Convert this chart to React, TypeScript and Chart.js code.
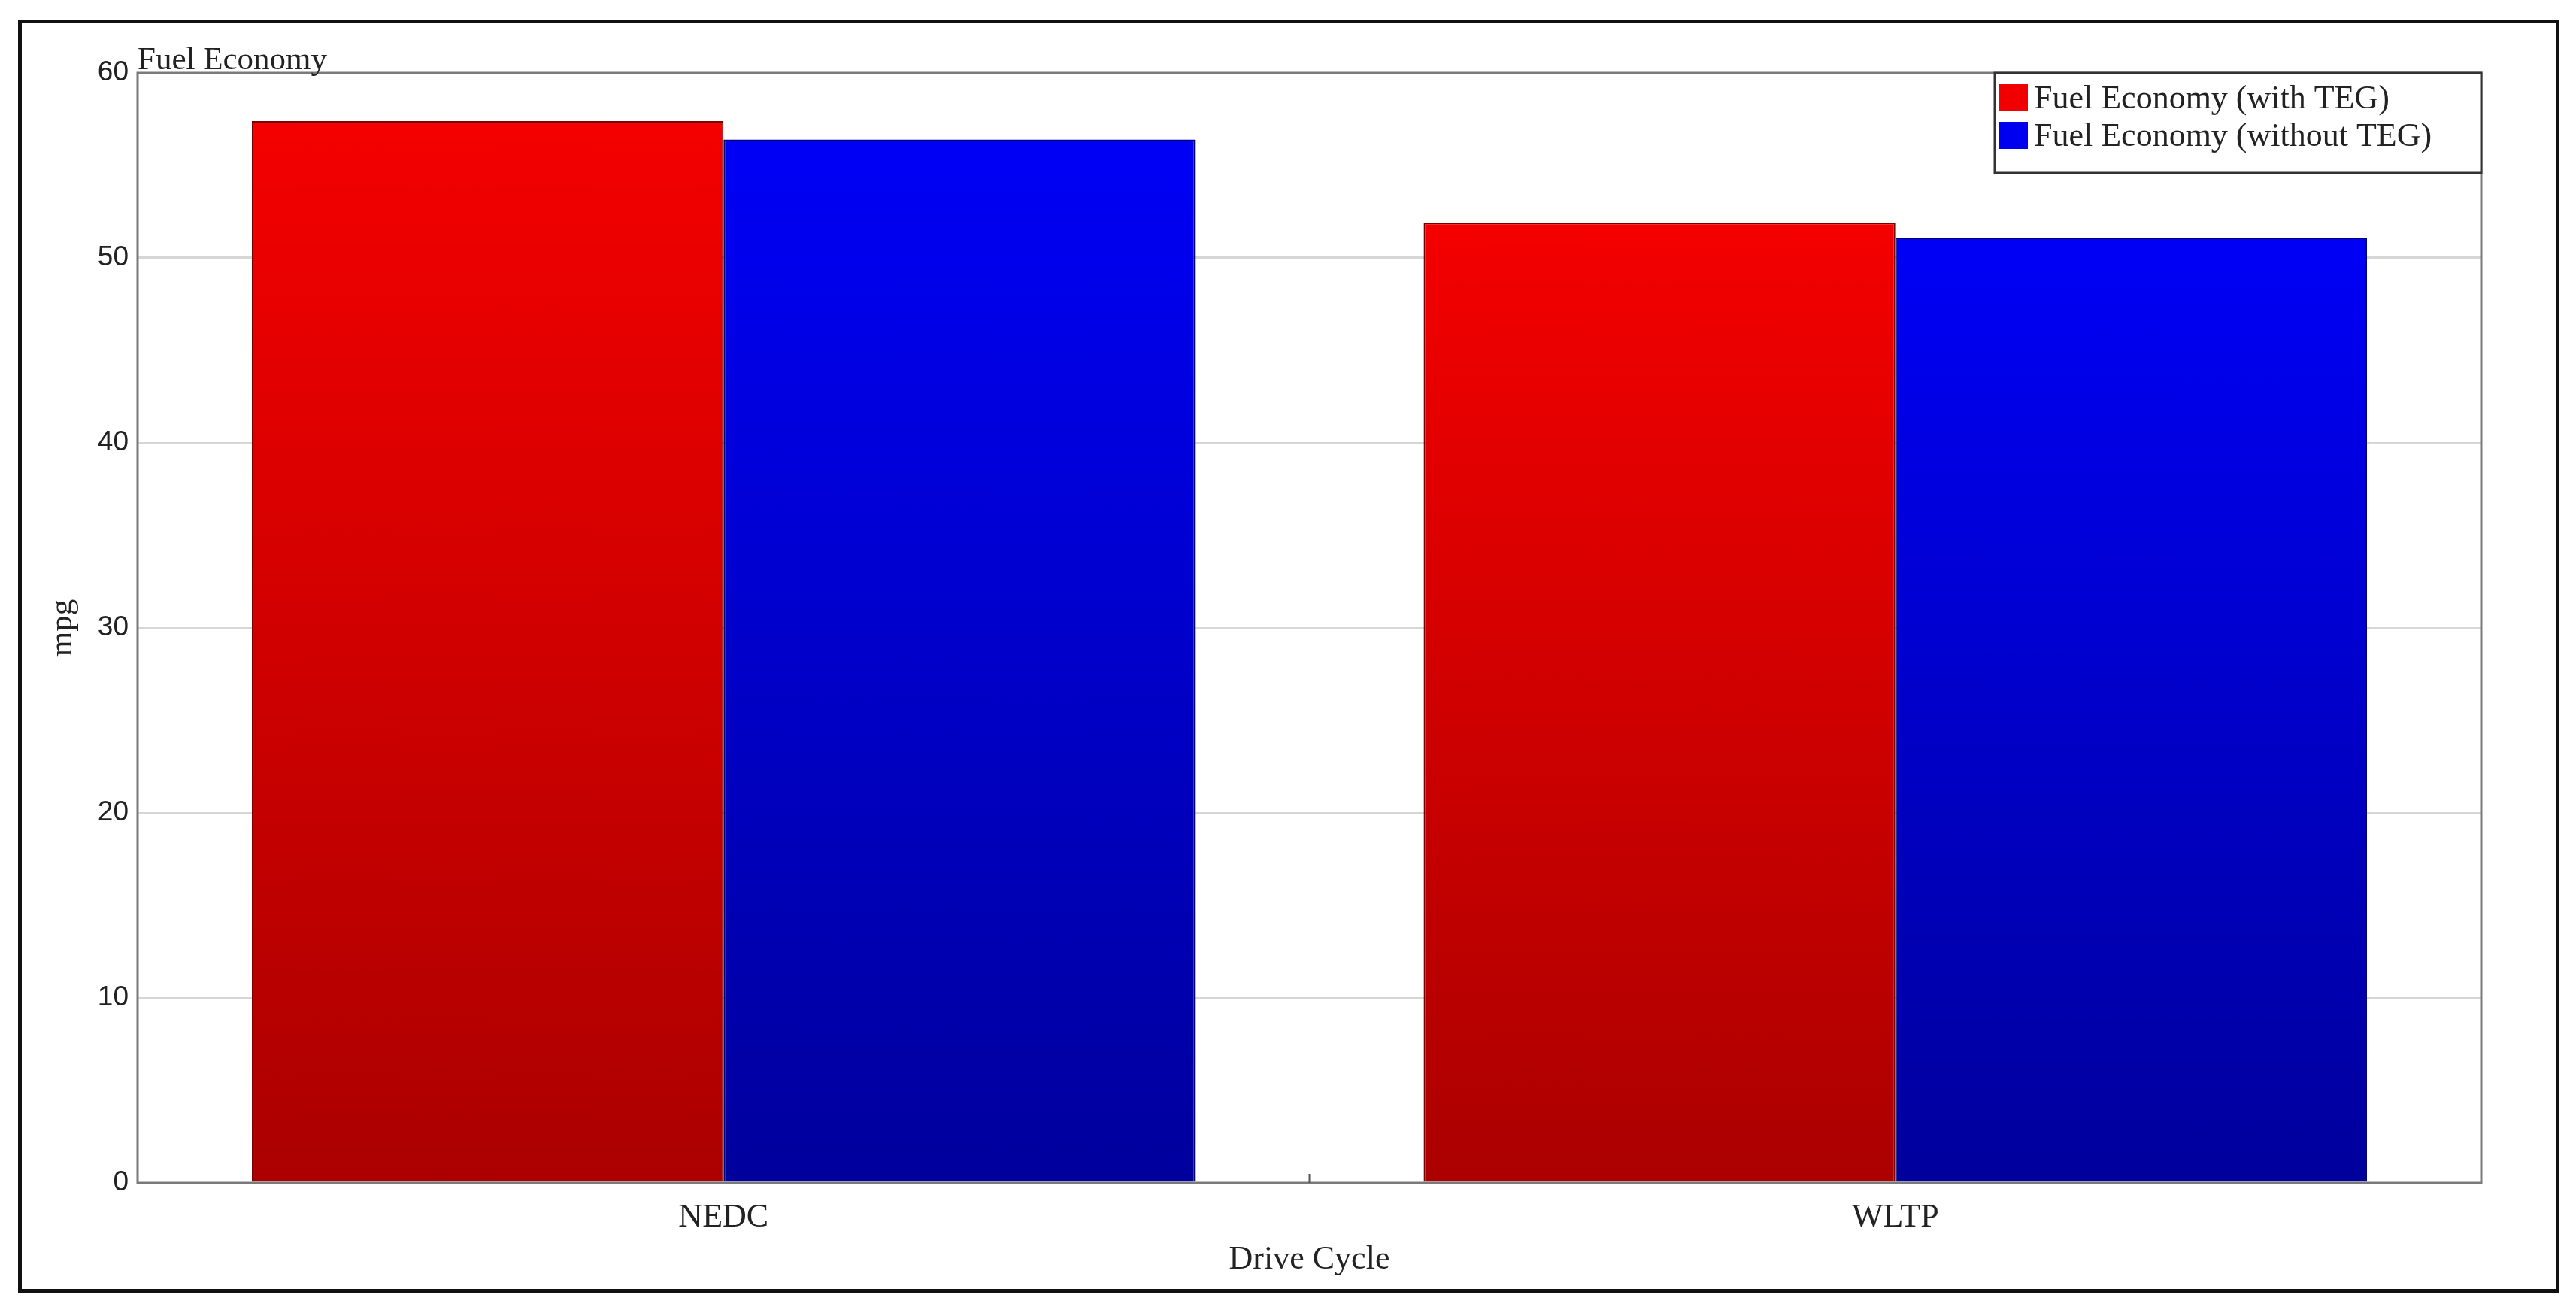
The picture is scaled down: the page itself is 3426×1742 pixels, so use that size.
import React, { useEffect, useRef } from 'react';
import { Chart, registerables } from 'chart.js';

Chart.register(...registerables);

const categories = ['NEDC', 'WLTP'];
const withTEG = [57.4, 51.9];
const withoutTEG = [56.4, 51.1];
const seriesLabels = ['Fuel Economy (with TEG)', 'Fuel Economy (without TEG)'];
const yMin = 0;
const yMax = 60;
const yStep = 10;
const chartTitle = 'Fuel Economy';
const xTitle = 'Drive Cycle';
const yTitle = 'mpg';

const SERIF = '"Liberation Serif", "Times New Roman", serif';
const SANS = '"Liberation Sans", Arial, sans-serif';
const legendColors = ['#f00000', '#0000f0'];

function barGradient(top: string, bottom: string) {
  return (c: any) => {
    const chart = c.chart;
    const y = chart.scales && chart.scales.y;
    if (!y || c.type !== 'data') return top;
    const v = typeof c.raw === 'number' ? c.raw : 0;
    const y0 = y.getPixelForValue(v);
    const y1 = y.getPixelForValue(0);
    if (!isFinite(y0) || !isFinite(y1) || y0 === y1) return top;
    const g = chart.ctx.createLinearGradient(0, y0, 0, y1);
    g.addColorStop(0, top);
    g.addColorStop(1, bottom);
    return g;
  };
}

const decorPlugin = {
  id: 'decor',
  afterDraw(chart: any) {
    const { ctx, chartArea: a, scales } = chart;
    ctx.save();
    // plot frame
    ctx.strokeStyle = '#7a7a7a';
    ctx.lineWidth = 3;
    ctx.strokeRect(a.left, a.top, a.right - a.left, a.bottom - a.top);
    // inward ticks at category boundaries
    const x = scales.x;
    ctx.strokeStyle = '#555';
    ctx.lineWidth = 2;
    for (let i = 0; i < categories.length - 1; i++) {
      const px = (x.getPixelForValue(i) + x.getPixelForValue(i + 1)) / 2;
      ctx.beginPath();
      ctx.moveTo(px, a.bottom);
      ctx.lineTo(px, a.bottom - 12);
      ctx.stroke();
    }
    // chart title
    ctx.fillStyle = '#222';
    ctx.font = `43px ${SERIF}`;
    ctx.textAlign = 'left';
    ctx.textBaseline = 'alphabetic';
    ctx.fillText(chartTitle, a.left, a.top - 5);
    // legend box
    const boxW = 647;
    const boxH = 133;
    const bx = a.right - boxW;
    const by = a.top;
    ctx.fillStyle = '#ffffff';
    ctx.fillRect(bx, by, boxW, boxH);
    ctx.strokeStyle = '#333';
    ctx.lineWidth = 3;
    ctx.strokeRect(bx, by, boxW, boxH);
    ctx.font = `44px ${SERIF}`;
    ctx.textBaseline = 'middle';
    chart.data.datasets.forEach((ds: any, i: number) => {
      const cy = by + 33 + i * 50;
      ctx.fillStyle = legendColors[i];
      ctx.fillRect(bx + 6, cy - 18, 38, 36);
      ctx.fillStyle = '#222';
      ctx.fillText(ds.label, bx + 52, cy + 2);
    });
    ctx.restore();
  },
};

export default function App() {
  const ref = useRef<HTMLCanvasElement | null>(null);

  useEffect(() => {
    document.body.style.margin = '0';
    const canvas = ref.current;
    if (!canvas) return;
    const chart = new Chart(canvas, {
      type: 'bar',
      data: {
        labels: categories,
        datasets: [
          {
            label: seriesLabels[0],
            data: withTEG,
            backgroundColor: barGradient('#f40000', '#ab0000'),
            borderColor: '#7a0000',
            borderWidth: 2,
            categoryPercentage: 0.805,
            barPercentage: 1,
          },
          {
            label: seriesLabels[1],
            data: withoutTEG,
            backgroundColor: barGradient('#0000f6', '#00009c'),
            borderColor: '#000070',
            borderWidth: 2,
            categoryPercentage: 0.805,
            barPercentage: 1,
          },
        ],
      },
      options: {
        animation: false,
        responsive: false,
        devicePixelRatio: 1,
        layout: { padding: { left: 0, top: 97, right: 126, bottom: 0 } },
        plugins: {
          legend: { display: false },
          title: { display: false },
          tooltip: { enabled: false },
        },
        scales: {
          x: {
            grid: { display: false },
            border: { display: false },
            ticks: { font: { family: SERIF, size: 44 }, color: '#222', padding: 12 },
            title: {
              display: true,
              text: xTitle,
              font: { family: SERIF, size: 44 },
              color: '#222',
              padding: { top: 0, bottom: 40 },
            },
            afterFit: (s: any) => {
              s.height = 169;
            },
          },
          y: {
            min: yMin,
            max: yMax,
            z: 1,
            grid: { color: 'rgba(165,165,165,0.45)', lineWidth: 3, drawTicks: false },
            border: { display: false },
            ticks: {
              stepSize: yStep,
              font: { family: SANS, size: 37 },
              color: '#222',
              padding: 12,
            },
            title: {
              display: true,
              text: yTitle,
              font: { family: SERIF, size: 43 },
              color: '#222',
              padding: { top: 58, bottom: 0 },
            },
            afterFit: (s: any) => {
              s.width = 183;
            },
          },
        },
      },
      plugins: [decorPlugin],
    });
    return () => chart.destroy();
  }, []);

  return (
    <div style={{ position: 'relative', width: 3426, height: 1742, background: '#fff' }}>
      <canvas ref={ref} width={3426} height={1742} style={{ display: 'block', width: 3426, height: 1742 }} />
      <div
        style={{
          position: 'absolute',
          left: 24,
          top: 26,
          width: 3404 - 24,
          height: 1719 - 26,
          border: '5px solid #111',
          boxSizing: 'border-box',
          pointerEvents: 'none',
        }}
      />
    </div>
  );
}
